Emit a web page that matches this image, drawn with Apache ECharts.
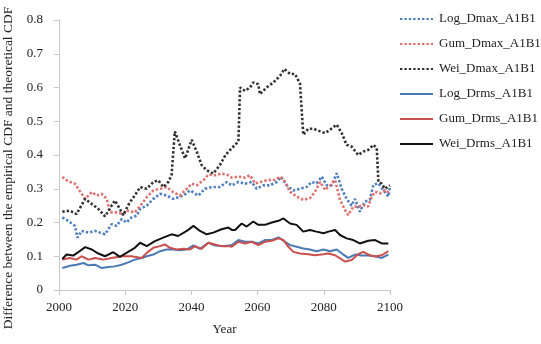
<!DOCTYPE html>
<html>
<head>
<meta charset="utf-8">
<script src="https://cdn.jsdelivr.net/npm/echarts@6/dist/echarts.min.js"></script>
<style>html,body{margin:0;padding:0;background:#fff}#c{width:541px;height:344px}</style>
</head>
<body>
<div id="c"></div>
<script>
const seriesNames = ['Log_Dmax_A1B1','Gum_Dmax_A1B1','Wei_Dmax_A1B1','Log_Drms_A1B1','Gum_Drms_A1B1','Wei_Drms_A1B1'];
const xTicks = [2000, 2020, 2040, 2060, 2080, 2100];

const logDmaxYears = [2001,2002.8,2004.8,2005.6,2006.8,2008.9,2010.9,2012.4,2013.9,2015.9,2017.4,2018.9,2020.4,2021.9,2023.5,2024.5,2026.5,2028.5,2030.5,2032.5,2034.5,2036,2037.6,2039.6,2042.1,2044.1,2046.1,2048.6,2050.7,2052.2,2054.2,2056.2,2058.2,2059.7,2061.7,2063.7,2065.8,2067.1,2068.8,2070.8,2072.8,2074.8,2076.3,2077.8,2079.4,2080.9,2082.4,2083.9,2085.4,2086.9,2088.4,2089.4,2090.9,2092.4,2093.9,2095,2096.5,2098,2099.5,2100];
const logDmaxVals = [0.215,0.205,0.19,0.155,0.175,0.17,0.175,0.17,0.165,0.195,0.19,0.21,0.2,0.215,0.22,0.24,0.25,0.27,0.285,0.28,0.27,0.275,0.28,0.295,0.28,0.3,0.305,0.305,0.32,0.31,0.32,0.315,0.32,0.3,0.31,0.31,0.32,0.335,0.31,0.295,0.3,0.305,0.32,0.316,0.336,0.31,0.31,0.346,0.3,0.27,0.25,0.27,0.232,0.262,0.267,0.312,0.316,0.296,0.277,0.306];

const gumDmaxYears = [2001,2002.8,2004.8,2005.8,2007.9,2009.9,2011.4,2012.9,2014.4,2015.4,2017.4,2019.4,2020.9,2022.9,2025,2026.5,2028.5,2030.5,2032.5,2034.5,2036.5,2038.6,2040.1,2041.6,2043.6,2045.1,2047.1,2049.1,2051.2,2052.2,2054.2,2056.2,2057.7,2059.2,2061.2,2063.2,2065.3,2066.8,2068.3,2069.8,2071.8,2073.8,2075.8,2077.3,2078.9,2080.4,2081.9,2083.4,2084.9,2086.4,2087.4,2088.9,2090.4,2091.9,2093.4,2094.5,2095.5,2097,2098.5,2100];
const gumDmaxVals = [0.335,0.322,0.315,0.3,0.27,0.29,0.28,0.285,0.27,0.23,0.23,0.225,0.235,0.23,0.255,0.275,0.295,0.3,0.305,0.29,0.28,0.3,0.315,0.31,0.325,0.342,0.34,0.345,0.34,0.333,0.336,0.333,0.34,0.316,0.321,0.326,0.326,0.336,0.321,0.291,0.277,0.267,0.272,0.29,0.32,0.296,0.31,0.326,0.267,0.237,0.222,0.247,0.247,0.252,0.247,0.277,0.291,0.286,0.296,0.286];

const weiDmaxYears = [2001,2003.3,2005.3,2007.9,2009.9,2011.9,2013.9,2015.9,2016.9,2018.4,2019.4,2021.4,2022.9,2024.5,2026.5,2028.5,2030,2031.5,2033,2034,2035,2036.5,2038.1,2040.1,2041.6,2043.1,2044.6,2046.6,2048.6,2050.3,2052.2,2053.2,2054.2,2054.7,2056.2,2057.7,2058.7,2060.2,2060.7,2062.7,2064.8,2066.8,2068.1,2069.8,2071.3,2072.8,2073.8,2075.3,2076.8,2078.9,2080.4,2081.9,2083.9,2085.4,2086.9,2088.4,2090.4,2091.9,2093.4,2095,2096,2096.5,2097.5,2098.5,2100];
const weiDmaxVals = [0.232,0.235,0.225,0.27,0.255,0.24,0.218,0.25,0.265,0.24,0.222,0.26,0.28,0.305,0.3,0.32,0.325,0.305,0.32,0.34,0.47,0.43,0.39,0.445,0.41,0.37,0.355,0.345,0.37,0.40,0.42,0.43,0.44,0.6,0.59,0.6,0.615,0.61,0.58,0.6,0.615,0.635,0.655,0.64,0.64,0.612,0.46,0.478,0.478,0.47,0.465,0.475,0.49,0.465,0.43,0.425,0.4,0.41,0.415,0.43,0.42,0.32,0.315,0.3,0.31];

const logDrmsYears = [2001,2003.3,2005.3,2007.4,2008.9,2010.9,2012.9,2014.9,2016.9,2018.9,2020.9,2022.9,2025,2026.5,2028.5,2030.5,2032.5,2034.5,2036.5,2038.6,2040.6,2042.6,2045.1,2047.1,2049.1,2051.2,2052.2,2054.2,2056.2,2058.2,2060.2,2062.2,2064.3,2066.3,2068.3,2069.8,2071.8,2073.8,2075.8,2077.8,2079.9,2081.9,2083.9,2085.9,2087.4,2089.4,2091.4,2093.4,2095.5,2097.5,2099.5];
const logDrmsVals = [0.065,0.072,0.075,0.08,0.073,0.075,0.065,0.068,0.07,0.075,0.082,0.09,0.095,0.1,0.105,0.115,0.12,0.12,0.118,0.12,0.132,0.122,0.14,0.132,0.13,0.132,0.133,0.148,0.143,0.143,0.138,0.148,0.148,0.156,0.143,0.133,0.128,0.123,0.12,0.115,0.12,0.115,0.12,0.105,0.095,0.105,0.102,0.102,0.1,0.095,0.105];

const gumDrmsYears = [2001,2003.3,2005.3,2006.8,2008.9,2010.9,2013.4,2015.9,2018.9,2021.9,2025,2026.5,2028.5,2030.5,2032,2033.5,2035.5,2037.6,2039.6,2041.1,2043.1,2045.1,2047.1,2049.1,2051.2,2052.2,2054.2,2056.2,2058.2,2060.2,2062.2,2064.3,2066.3,2067.8,2069.3,2070.8,2072.8,2075.3,2077.3,2079.9,2081.4,2083.4,2084.9,2086.4,2088.4,2090.4,2091.9,2093.9,2095.5,2097.5,2099.5];
const gumDrmsVals = [0.09,0.095,0.09,0.1,0.09,0.095,0.09,0.095,0.1,0.1,0.095,0.11,0.125,0.13,0.135,0.125,0.12,0.122,0.12,0.13,0.122,0.14,0.135,0.13,0.13,0.128,0.143,0.138,0.143,0.133,0.143,0.146,0.153,0.148,0.128,0.113,0.108,0.106,0.103,0.106,0.108,0.103,0.094,0.084,0.089,0.106,0.113,0.103,0.099,0.103,0.115];

const weiDrmsYears = [2001,2002.3,2004.3,2005.8,2007.9,2009.9,2011.9,2013.9,2016.4,2018.4,2020.4,2022.9,2024.5,2026.5,2029,2031.5,2034,2036,2038.6,2040.6,2042.6,2044.6,2046.6,2049.1,2051.2,2052.2,2053.2,2055.2,2056.7,2058.7,2060.2,2062.2,2064.3,2066.3,2067.8,2069.8,2071.8,2073.8,2075.8,2077.8,2079.9,2081.4,2083.4,2084.9,2086.9,2088.9,2090.9,2093.4,2095.5,2097.5,2099.5];
const weiDrmsVals = [0.092,0.105,0.102,0.112,0.127,0.12,0.108,0.1,0.112,0.098,0.11,0.125,0.14,0.13,0.145,0.155,0.165,0.16,0.175,0.19,0.175,0.165,0.17,0.18,0.185,0.178,0.178,0.197,0.188,0.203,0.193,0.193,0.2,0.205,0.212,0.197,0.193,0.173,0.178,0.173,0.168,0.173,0.178,0.163,0.153,0.148,0.138,0.146,0.148,0.138,0.138];

const seriesYears = [logDmaxYears, gumDmaxYears, weiDmaxYears, logDrmsYears, gumDrmsYears, weiDrmsYears];
const seriesVals = [logDmaxVals, gumDmaxVals, weiDmaxVals, logDrmsVals, gumDrmsVals, weiDrmsVals];

const colors = ['#4f7fbf', '#e07070', '#333333', '#4a7ab5', '#c9504d', '#111111'];
const dotted = [true, true, true, false, false, false];

const serif = 'Liberation Serif';
const chart = echarts.init(document.getElementById('c'), null, {renderer: 'canvas'});

const series = seriesNames.map((n, i) => ({
  name: n,
  type: 'line',
  symbol: 'none',
  smooth: false,
  data: seriesYears[i].map((y, k) => [y, seriesVals[i][k]]),
  lineStyle: {
    color: colors[i],
    width: dotted[i] ? 2.6 : 2,
    type: dotted[i] ? [2.4, 2] : 'solid'
  },
  itemStyle: {color: colors[i]},
  z: dotted[i] ? 2 : 3
}));

chart.setOption({
  animation: false,
  textStyle: {fontFamily: serif},
  grid: {left: 59, top: 20, width: 331, height: 270, containLabel: false, outerBoundsMode: 'none'},
  legend: {
    orient: 'vertical',
    left: 399,
    top: 12,
    padding: 0,
    itemWidth: 33,
    itemHeight: 14,
    itemGap: 11,
    data: seriesNames,
    itemStyle: {opacity: 0},
    textStyle: {fontFamily: serif, fontSize: 13, color: '#222', padding: [0, 0, 0, 1], lineHeight: 14}
  },
  xAxis: {
    type: 'value',
    min: 2000,
    max: 2100,
    interval: 20,
    name: 'Year',
    nameLocation: 'middle',
    nameGap: 33,
    nameTextStyle: {fontFamily: serif, fontSize: 13, color: '#222'},
    axisLine: {show: true, lineStyle: {color: '#c8c8c8', width: 1}},
    axisTick: {show: true, length: 5, lineStyle: {color: '#c8c8c8'}},
    axisLabel: {fontFamily: serif, fontSize: 13, color: '#222', margin: 11,
      formatter: v => String(v)},
    splitLine: {show: false}
  },
  yAxis: {
    type: 'value',
    min: 0,
    max: 0.8,
    interval: 0.1,
    name: 'Difference between the empirical CDF and theoretical CDF',
    nameLocation: 'middle',
    nameGap: 44,
    nameTextStyle: {fontFamily: serif, fontSize: 13.5, color: '#222', padding: [0, 26, 0, 0]},
    axisLine: {show: true, lineStyle: {color: '#c8c8c8', width: 1}},
    axisTick: {show: true, length: 5, lineStyle: {color: '#c8c8c8'}},
    axisLabel: {fontFamily: serif, fontSize: 13, color: '#222', margin: 16,
      formatter: v => (Math.round(v * 10) / 10).toString()},
    splitLine: {show: false}
  },
  series: series
});
</script>
</body>
</html>
